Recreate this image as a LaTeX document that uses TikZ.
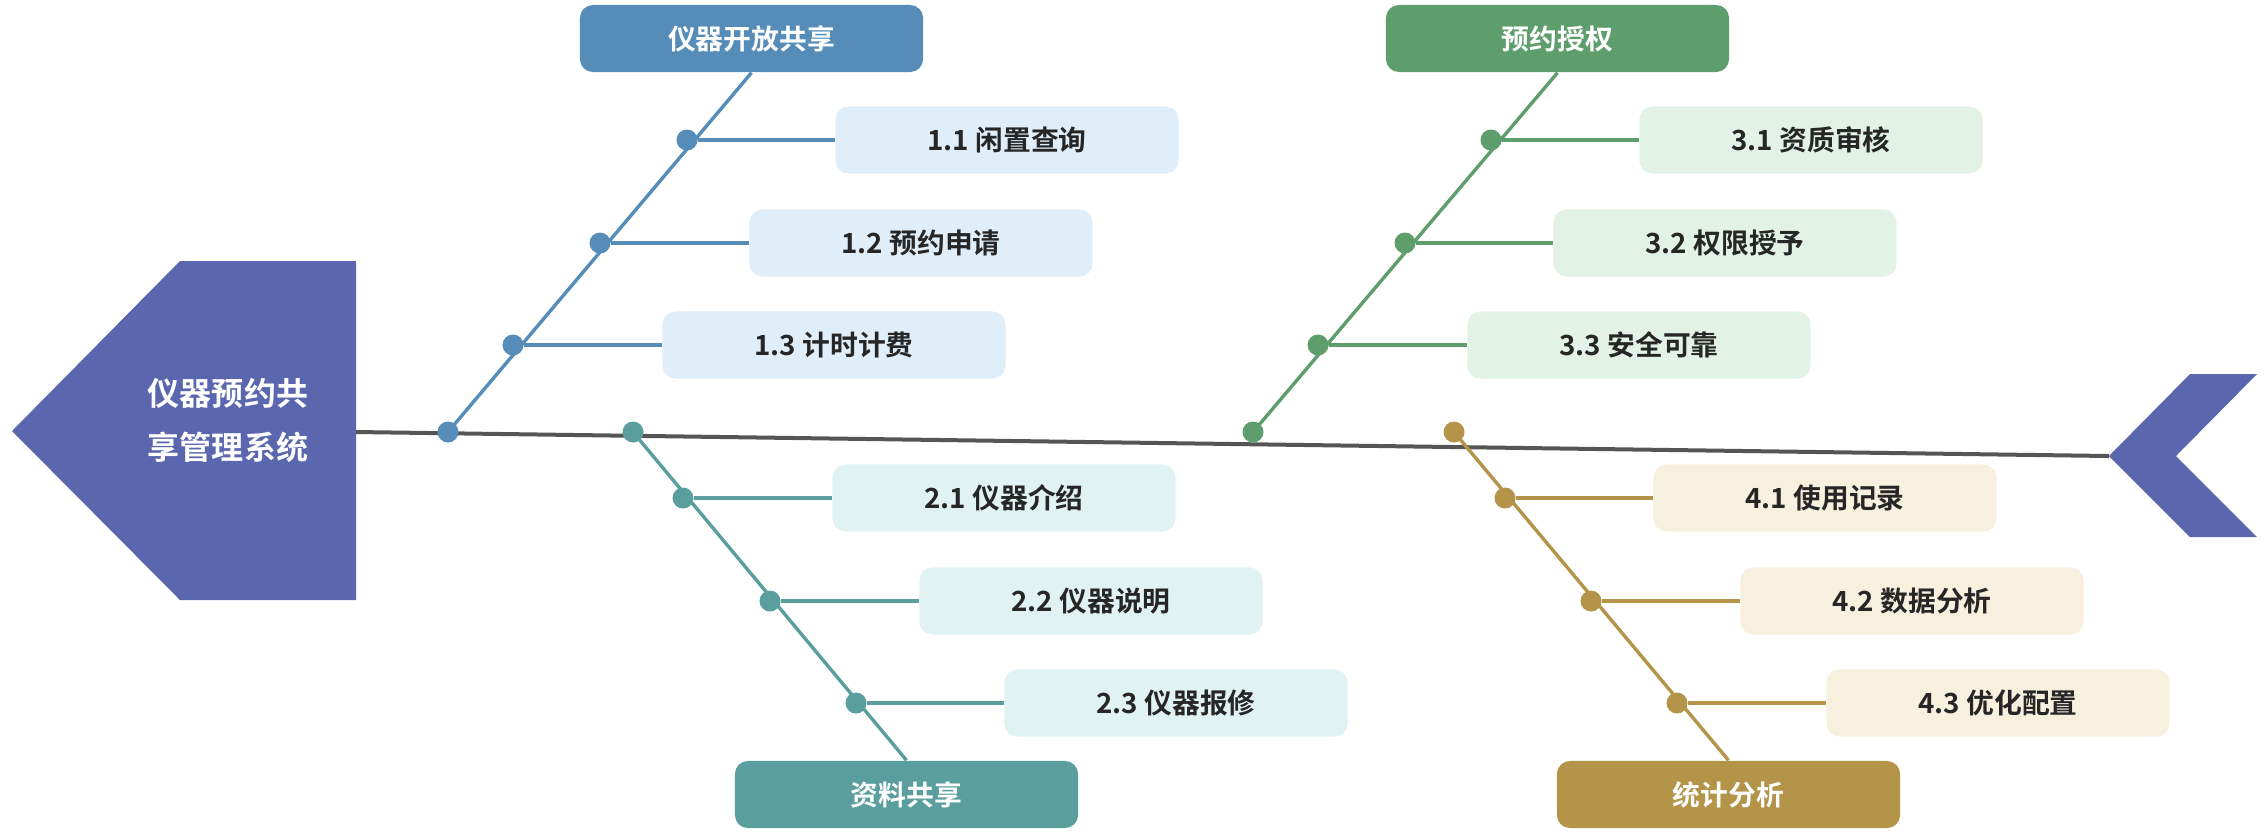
\documentclass[tikz,border=0pt]{standalone}
\usepackage{fontspec}
\setmainfont{Noto Sans CJK SC}[BoldFont={Noto Sans CJK SC Bold}]
\usetikzlibrary{calc}
\definecolor{chead}{RGB}{90,103,174}
\definecolor{cspine}{RGB}{85,85,85}
\definecolor{ctext}{RGB}{38,38,38}
\definecolor{cblue}{RGB}{85,141,184}
\definecolor{cteal}{RGB}{90,158,157}
\definecolor{cgreen}{RGB}{94,158,108}
\definecolor{cgold}{RGB}{179,148,73}
\definecolor{lblue}{RGB}{224,238,249}
\definecolor{lteal}{RGB}{224,242,241}
\definecolor{lgreen}{RGB}{227,242,230}
\definecolor{lgold}{RGB}{248,240,223}

\begin{document}
\begin{tikzpicture}[
  x=0.01cm, y=-0.01cm,
  font=\bfseries\fontsize{7.9pt}{9pt}\selectfont,
  title/.style={rounded corners=0.13cm,minimum width=3.43cm,minimum height=0.67cm,inner sep=0pt,text=white},
  item/.style={rounded corners=0.13cm,minimum width=3.43cm,minimum height=0.67cm,inner sep=0pt,text=ctext},
  dot/.style={circle,inner sep=0pt,minimum size=0.21cm},
  bone/.style={line width=0.034cm}
]
  \useasboundingbox (0,0) rectangle (2268,832);

  % head and tail of the fish
  \fill[chead] (12,431) -- (180,261) -- (356,261) -- (356,600) -- (180,600) -- cycle;
  \fill[chead] (2109,456) -- (2190,374) -- (2257,374) -- (2176,456) -- (2257,537) -- (2190,537) -- cycle;
  \node[text=white,align=center,font=\bfseries\fontsize{9.1pt}{15.3pt}\selectfont] (head) at (228,420)
    {仪器预约共\\享管理系统};
  \coordinate (spineL) at (356,432);
  \coordinate (spineR) at (2109,456);
  \draw[cspine,line width=0.04cm] (spineL) -- (spineR);

  % branch 1
  \node[title,fill=cblue] (b1) at (751.5,38.5) {仪器开放共享};
  \node[dot,fill=cblue] (p1) at (448,432) {};
  \node[dot,fill=cblue] (d11) at (687,140) {};
  \node[dot,fill=cblue] (d12) at (600,243) {};
  \node[dot,fill=cblue] (d13) at (513,345) {};
  \node[item,fill=lblue] (s11) at (1007,140) {1.1 闲置查询};
  \node[item,fill=lblue] (s12) at (921,243) {1.2 预约申请};
  \node[item,fill=lblue] (s13) at (834,345) {1.3 计时计费};
  \draw[bone,cblue] (b1.south) -- (p1.center);
  \draw[bone,cblue] (d11) -- (s11.west);
  \draw[bone,cblue] (d12) -- (s12.west);
  \draw[bone,cblue] (d13) -- (s13.west);

  % branch 2
  \node[title,fill=cteal] (b2) at (906.5,794.5) {资料共享};
  \node[dot,fill=cteal] (p2) at (633,432) {};
  \node[dot,fill=cteal] (d21) at (683,498) {};
  \node[dot,fill=cteal] (d22) at (770,601) {};
  \node[dot,fill=cteal] (d23) at (856,703) {};
  \node[item,fill=lteal] (s21) at (1004,498) {2.1 仪器介绍};
  \node[item,fill=lteal] (s22) at (1091,601) {2.2 仪器说明};
  \node[item,fill=lteal] (s23) at (1176,703) {2.3 仪器报修};
  \draw[bone,cteal] (p2.center) -- (b2.north);
  \draw[bone,cteal] (d21) -- (s21.west);
  \draw[bone,cteal] (d22) -- (s22.west);
  \draw[bone,cteal] (d23) -- (s23.west);

  % branch 3
  \node[title,fill=cgreen] (b3) at (1557.5,38.5) {预约授权};
  \node[dot,fill=cgreen] (p3) at (1253,432) {};
  \node[dot,fill=cgreen] (d31) at (1491,140) {};
  \node[dot,fill=cgreen] (d32) at (1405,243) {};
  \node[dot,fill=cgreen] (d33) at (1318,345) {};
  \node[item,fill=lgreen] (s31) at (1811,140) {3.1 资质审核};
  \node[item,fill=lgreen] (s32) at (1725,243) {3.2 权限授予};
  \node[item,fill=lgreen] (s33) at (1639,345) {3.3 安全可靠};
  \draw[bone,cgreen] (b3.south) -- (p3.center);
  \draw[bone,cgreen] (d31) -- (s31.west);
  \draw[bone,cgreen] (d32) -- (s32.west);
  \draw[bone,cgreen] (d33) -- (s33.west);

  % branch 4
  \node[title,fill=cgold] (b4) at (1728.5,794.5) {统计分析};
  \node[dot,fill=cgold] (p4) at (1454,432) {};
  \node[dot,fill=cgold] (d41) at (1505,498) {};
  \node[dot,fill=cgold] (d42) at (1591,601) {};
  \node[dot,fill=cgold] (d43) at (1677,703) {};
  \node[item,fill=lgold] (s41) at (1825,498) {4.1 使用记录};
  \node[item,fill=lgold] (s42) at (1912,601) {4.2 数据分析};
  \node[item,fill=lgold] (s43) at (1998,703) {4.3 优化配置};
  \draw[bone,cgold] (p4.center) -- (b4.north);
  \draw[bone,cgold] (d41) -- (s41.west);
  \draw[bone,cgold] (d42) -- (s42.west);
  \draw[bone,cgold] (d43) -- (s43.west);
\end{tikzpicture}
\end{document}
